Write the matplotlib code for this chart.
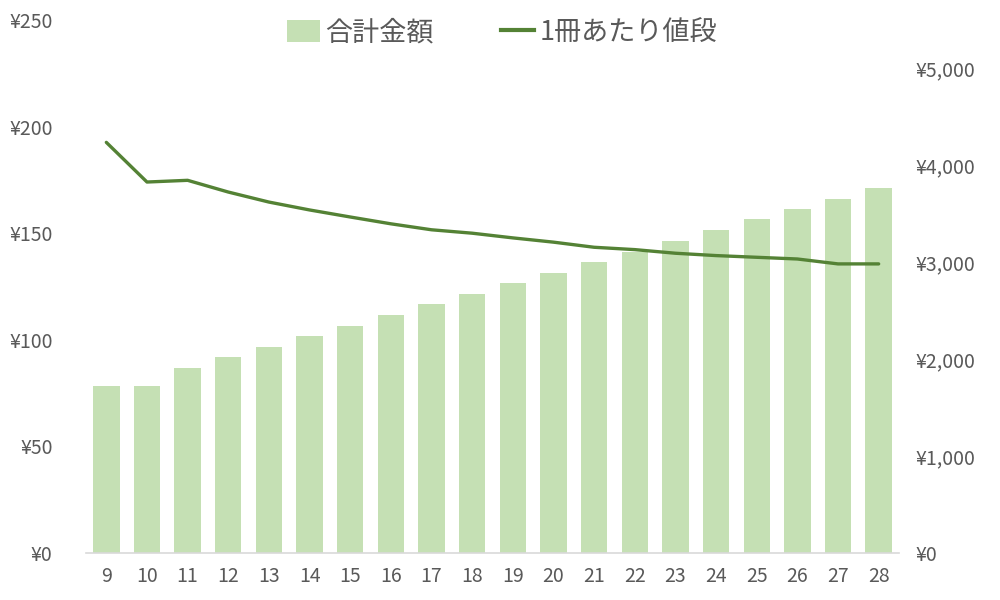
import matplotlib
matplotlib.use("Agg")
import matplotlib.pyplot as plt
from matplotlib.ticker import FuncFormatter
from matplotlib.patches import Patch
from matplotlib.lines import Line2D

plt.rcParams['font.family'] = ['Noto Sans CJK JP', 'DejaVu Sans']

categories = [str(i) for i in range(9, 29)]
total_amount = [1723, 1723, 1914, 2021, 2124, 2237, 2347, 2461, 2570, 2670,
                2783, 2894, 3003, 3106, 3220, 3330, 3443, 3554, 3657, 3766]
price_per_book = [192.6, 174.0, 174.8, 169.3, 164.6, 160.9, 157.6, 154.4, 151.6, 150.0,
                  147.8, 145.8, 143.4, 142.3, 140.6, 139.5, 138.7, 137.9, 135.6, 135.6]
bar_label = '合計金額'
line_label = '1冊あたり値段'

bar_color = '#c5e0b4'
line_color = '#548235'
text_color = '#595959'

fig = plt.figure(figsize=(10, 6), dpi=100)
ax = fig.add_axes([0.086, 0.0783, 0.813, 0.8884])
x = list(range(len(categories)))
ax.bar(x, total_amount, width=0.65, color=bar_color, zorder=2)
ax.set_xlim(-0.5, len(categories) - 0.5)
ax.set_ylim(0, 5500)
ax.set_yticks([0, 1000, 2000, 3000, 4000, 5000])
ax.yaxis.set_major_formatter(FuncFormatter(lambda v, p: f'¥{int(v):,}'))
ax.set_xticks(x)
ax.set_xticklabels(categories)

ax2 = ax.twinx()
ax2.plot(x, price_per_book, color=line_color, linewidth=2.4, solid_capstyle='round', zorder=3)
ax2.set_ylim(0, 250)
ax2.set_yticks([0, 50, 100, 150, 200, 250])
ax2.yaxis.set_major_formatter(FuncFormatter(lambda v, p: f'¥{int(v)}'))

ax.tick_params(axis='y', left=False, right=False, labelleft=False, labelright=True, pad=12)
ax2.tick_params(axis='y', left=False, right=False, labelleft=True, labelright=False, pad=24)

for a in (ax, ax2):
    for s in ('top', 'left', 'right'):
        a.spines[s].set_visible(False)
    a.spines['bottom'].set_color('#d9d9d9')
    a.spines['bottom'].set_linewidth(1.2)
    a.tick_params(axis='both', length=0, labelsize=14, labelcolor=text_color)
ax2.spines['bottom'].set_visible(False)
ax.tick_params(axis='x', pad=9)

handles = [Patch(facecolor=bar_color, edgecolor='none', label=bar_label),
           Line2D([0], [0], color=line_color, linewidth=3, label=line_label)]
fig.legend(handles=handles, loc='center', bbox_to_anchor=(0.502, 0.945), ncol=2,
           frameon=False, fontsize=19.5, labelcolor=text_color, handlelength=1.2,
           handletextpad=0.2, columnspacing=2.5, handleheight=0.9)

fig.savefig('out.png', dpi=100)
